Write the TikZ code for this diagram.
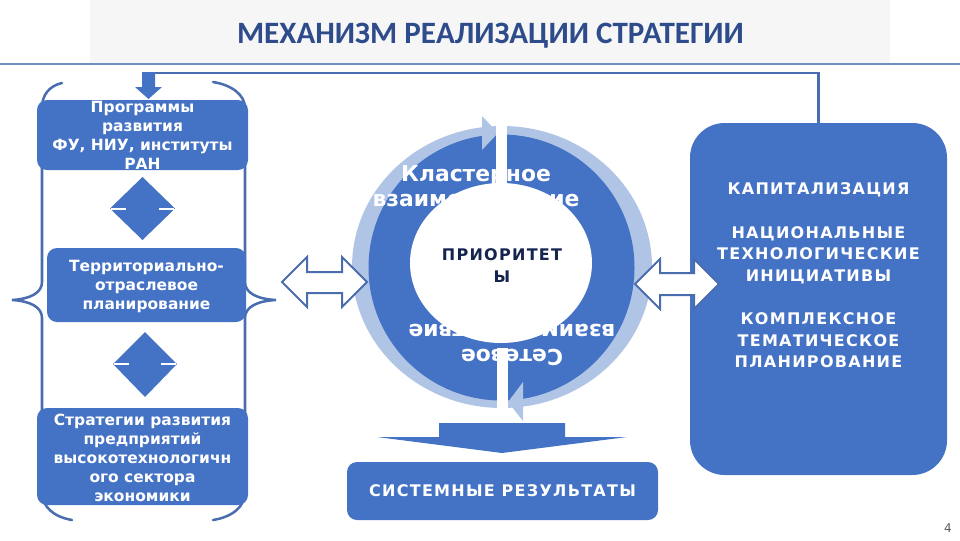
\documentclass[tikz,border=0pt]{standalone}
\usepackage{fontspec}
\setmainfont{DejaVu Sans}
\newfontfamily\titlefont{Carlito}
\newfontfamily\widefont{DejaVu Sans}[LetterSpace=8]
\usetikzlibrary{shapes.geometric}
\definecolor{boxblue}{HTML}{4472C4}
\definecolor{ringlight}{HTML}{B0C4E6}
\definecolor{titleblue}{HTML}{2E4C8C}
\definecolor{linecol}{HTML}{4A6DB0}
\definecolor{sepline}{HTML}{6D90C4}
\definecolor{navy}{HTML}{14244F}
\definecolor{greybg}{HTML}{F6F6F6}
\definecolor{pagegrey}{HTML}{595959}
\tikzset{
  bluebox/.style={fill=boxblue, inner sep=0pt, outer sep=0pt, rounded corners=7.5pt},
  lefttext/.style={text=white, align=center, inner sep=0pt,
    font=\bfseries\fontsize{11.6}{14.25}\selectfont},
  widetext/.style={text=white, align=center, inner sep=0pt,
    font=\widefont\bfseries\fontsize{12}{16.2}\selectfont},
  ringtext/.style={text=white, align=center, inner sep=0pt,
    font=\bfseries\fontsize{16.4}{18.75}\selectfont},
  brace/.style={draw=linecol, line width=1.9pt, line cap=round},
  dblarrow/.style={draw=linecol, fill=white, line width=1.5pt, line join=miter},
}
\begin{document}
\begin{tikzpicture}[x=0.75pt,y=-0.75pt]
\useasboundingbox (0,0) rectangle (960,540);
% title band
\fill[greybg] (90,0) rectangle (890,63);
\draw[sepline, line width=0.9pt] (0,64) -- (960,64);
\node[text=titleblue, font=\titlefont\bfseries\fontsize{23.3}{26}\selectfont, inner sep=0pt] (title) at (490.5,36) {МЕХАНИЗМ РЕАЛИЗАЦИИ СТРАТЕГИИ};

% braces
\draw[brace] (62,83) .. controls (49,86) and (42,95) .. (42,108) -- (42,282)
  .. controls (42,293) and (30,299) .. (12,300)
  .. controls (30,301) and (42,307) .. (42,318) -- (42,492)
  .. controls (42,507) and (54,517) .. (72,520);
\draw[brace] (213,82) .. controls (232,85) and (245,95) .. (245,108) -- (245,282)
  .. controls (245,293) and (257,299) .. (276,300)
  .. controls (257,301) and (245,307) .. (245,318) -- (245,492)
  .. controls (245,507) and (232,517) .. (213,520);

% left boxes
\node[bluebox, minimum width=158.25pt, minimum height=52.5pt] (b1) at (142.5,135) {};
\node[lefttext] (b1t) at (142.5,135.5) {Программы\\развития\\ФУ, НИУ, институты\\РАН};
\node[bluebox, minimum width=149.25pt, minimum height=55.5pt] (b2) at (146.5,285) {};
\node[lefttext] (b2t) at (146.5,286) {Территориально-\\отраслевое\\планирование};
\node[bluebox, minimum width=158.25pt, minimum height=72.75pt] (b3) at (142.5,456.5) {};
\node[lefttext] (b3t) at (142.5,457.5) {Стратегии развития\\предприятий\\высокотехнологичн\\ого сектора\\экономики};

% diamonds
\fill[boxblue] (142.5,177) -- (175,208.5) -- (142.5,240) -- (110,208.5) -- cycle;
\draw[white, line width=1.5pt] (111,208.5) -- (126,208.5) (159,208.5) -- (174,208.5);
\fill[boxblue] (145,332) -- (177,364) -- (145,397) -- (113,364) -- cycle;
\draw[white, line width=1.5pt] (114,364) -- (129,364) (161,364) -- (176,364);

% right box
\node[fill=boxblue, rounded corners=26pt, inner sep=0pt, minimum width=192.75pt, minimum height=264pt] (rb) at (818.5,299) {};
\node[widetext] (rbt) at (818.5,275.5) {КАПИТАЛИЗАЦИЯ\\[16.2pt]НАЦИОНАЛЬНЫЕ\\ТЕХНОЛОГИЧЕСКИЕ\\ИНИЦИАТИВЫ\\[16.2pt]КОМПЛЕКСНОЕ\\ТЕМАТИЧЕСКОЕ\\ПЛАНИРОВАНИЕ};

% feedback line
\coordinate (fbc) at (148.5,73);
\draw[linecol, line width=2.2pt] (rb.north) |- (fbc);
\fill[boxblue] (142,72) -- (155,72) -- (155,87) -- (162,87) -- (148.5,99) -- (135,87) -- (142,87) -- cycle;

% cycle
\fill[ringlight] (502,267) ellipse [x radius=150, y radius=141];
\fill[boxblue] (501.5,267.5) circle [radius=133];
\fill[ringlight] (482,116) -- (498,133) -- (482,150) -- cycle;
\fill[ringlight] (523,382) -- (508,402) -- (523,421) -- cycle;
\node[ringtext] (kl) at (476,187.5) {Кластерное\\взаимодействие};
\node[ringtext, rotate=180] (sv) at (512,343.5) {Сетевое\\взаимодействие};
\node[ellipse, fill=white, inner sep=0pt, minimum width=136.5pt, minimum height=120pt] (pr) at (501,263) {};
\node[text=navy, align=center, inner sep=0pt, font=\widefont\bfseries\fontsize{12}{16.5}\selectfont] (prt) at (502,266) {ПРИОРИТЕТ\\Ы};
\fill[white] (496,118) rectangle (507,185);
\fill[white] (497,348) rectangle (508,423);

% double arrows
\draw[dblarrow] (282,282) -- (307,257) -- (307,272) -- (342,272) -- (342,257) -- (367,282)
  -- (342,307) -- (342,293) -- (307,293) -- (307,307) -- cycle;
\draw[dblarrow] (635,284) -- (660,259) -- (660,273) -- (694,273) -- (694,259) -- (719,284)
  -- (694,309) -- (694,295) -- (660,295) -- (660,309) -- cycle;

% down arrow and results
\fill[boxblue] (439,423) -- (565,423) -- (565,437) -- (627,437) -- (502,453) -- (377,437) -- (439,437) -- cycle;
\node[bluebox, minimum width=233.25pt, minimum height=43.5pt] (res) at (502.5,491) {};
\node[widetext] (rest) at (502.5,491) {СИСТЕМНЫЕ РЕЗУЛЬТАТЫ};

% page number
\node[text=pagegrey, font=\fontsize{9}{10}\selectfont, inner sep=0pt] (pg) at (948,528) {4};
\end{tikzpicture}
\end{document}
